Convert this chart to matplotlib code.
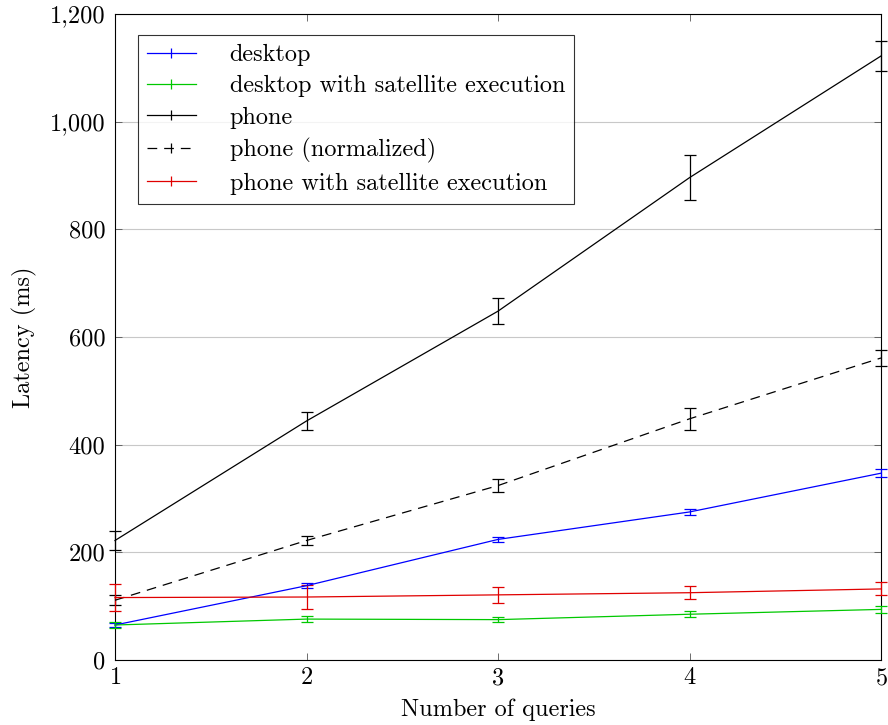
import matplotlib
matplotlib.use("Agg")
import matplotlib.pyplot as plt
from matplotlib.lines import Line2D
from matplotlib.ticker import FuncFormatter, MultipleLocator

plt.rcParams["font.family"] = "serif"
plt.rcParams["font.serif"] = ["cmr10", "DejaVu Serif"]
plt.rcParams["axes.formatter.use_mathtext"] = True
plt.rcParams["lines.scale_dashes"] = False

queries = [1, 2, 3, 4, 5]

desktop = [65, 138, 224, 275, 347]
desktop_err = [4, 5, 5, 5, 7]

desktop_sat = [65, 76, 75, 85, 94]
desktop_sat_err = [5, 5, 5, 6, 7]

phone = [222, 444, 648, 896, 1122]
phone_err = [18, 17, 24, 42, 28]

phone_norm = [111, 222, 324, 448, 561]
phone_norm_err = [9, 8, 12, 21, 14]

phone_sat = [116, 117, 121, 125, 132]
phone_sat_err = [25, 23, 15, 12, 12]

series = [
    ("desktop", desktop, desktop_err, "#0000ff", "-"),
    ("desktop with satellite execution", desktop_sat, desktop_sat_err, "#00c800", "-"),
    ("phone", phone, phone_err, "black", "-"),
    ("phone (normalized)", phone_norm, phone_norm_err, "black", (0, (7, 5))),
    ("phone with satellite execution", phone_sat, phone_sat_err, "#e00000", "-"),
]

fs = 17.5

fig = plt.figure(figsize=(8.88, 7.25), dpi=100)
ax = fig.add_axes([115 / 888, 1 - 660 / 725, (881 - 115) / 888, (660 - 14) / 725])

handles = []
for label, vals, errs, color, ls in series:
    ax.errorbar(queries, vals, yerr=errs, color=color, linestyle=ls, linewidth=0.9,
                elinewidth=0.9, capsize=4, capthick=0.9, zorder=3, clip_on=False)
    handles.append(Line2D([], [], color=color, linestyle=ls, linewidth=0.9,
                          marker="|", markersize=7, markeredgewidth=0.9))

ax.set_xlim(1, 5)
ax.set_ylim(0, 1200)
ax.xaxis.set_major_locator(MultipleLocator(1))
ax.yaxis.set_major_locator(MultipleLocator(200))
ax.yaxis.set_major_formatter(FuncFormatter(lambda v, p: f"{int(v):,}"))
ax.grid(axis="y", color="#c8c8c8", linewidth=0.8)
ax.set_axisbelow(True)
ax.tick_params(direction="in", top=True, right=True, length=5, width=0.6,
               color="#555555", labelsize=fs, pad=5)
ax.tick_params(axis="y", pad=7)
for s in ax.spines.values():
    s.set_linewidth(0.8)

ax.set_xlabel("Number of queries", fontsize=fs, labelpad=7)
ax.set_ylabel("Latency (ms)", fontsize=fs, labelpad=9)

leg = ax.legend(handles, [s[0] for s in series], loc="upper left",
                bbox_to_anchor=(0.03, 0.9675), fontsize=fs, frameon=True,
                fancybox=False, edgecolor="black", handlelength=2.0,
                handletextpad=1.4, borderpad=0.37, labelspacing=0.38,
                borderaxespad=0)
leg.get_frame().set_linewidth(0.8)

fig.savefig("out.png", dpi=100)
